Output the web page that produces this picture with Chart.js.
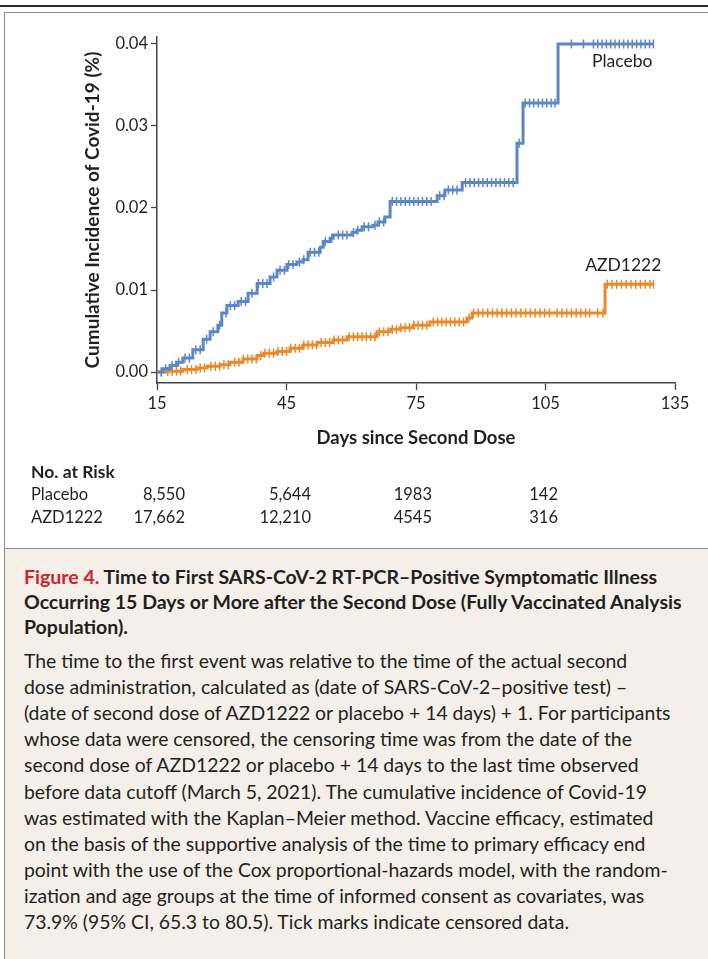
<!DOCTYPE html>
<html><head><meta charset="utf-8">
<script src="https://cdn.jsdelivr.net/npm/chart.js@4/dist/chart.umd.min.js"></script>
<style>
html,body{margin:0;padding:0;background:#fff;}
body{width:708px;height:959px;position:relative;overflow:hidden;font-family:Lato,"Open Sans",sans-serif;color:#231f20;}
#topline{position:absolute;left:0;top:5px;width:708px;height:2px;background:#2a2a2a;}
#frame{position:absolute;left:4px;top:12px;width:730px;height:960px;border-left:1.5px solid #8a8a8a;border-top:1.5px solid #8a8a8a;background:#fff;}
#caption{position:absolute;left:4px;top:548px;width:730px;height:420px;border-left:1.5px solid #8a8a8a;border-top:1.5px solid #8a8a8a;background:#f4f0e9;}
#cv{position:absolute;left:0;top:0;}
#risk{position:absolute;left:0;top:0;width:708px;height:548px;pointer-events:none;}
.rk{position:absolute;font-size:16.5px;white-space:nowrap;line-height:20px;}
.cap{position:absolute;left:24px;white-space:nowrap;font-size:19.4px;line-height:25px;}
.cap.ttl{font-size:19.5px;}
.ttl{font-weight:700;}
.red{color:#d2232a;}
</style></head>
<body>
<div id="topline"></div>
<div id="frame"></div>
<div id="caption"></div>
<canvas id="cv" width="708" height="460"></canvas>
<div id="risk"></div>
<div id="captext"></div>
<script>
// ---- data ----
const placeboDays = [15, 16.4, 18, 19.5, 21, 23.3, 25.7, 27.3, 29.1, 30, 31.2, 33.8, 36.1, 38.2, 41.2, 42.8, 45.1, 47.4, 48.8, 50, 52.8, 53.5, 55.1, 55.8, 60.2, 61.3, 62.5, 65, 66.2, 67.8, 69, 79.9, 81.7, 85.7, 98.4, 99.8, 107.9, 130];
const placeboCum  = [0, 0.0004, 0.0008, 0.0012, 0.0017, 0.0027, 0.0040, 0.0049, 0.0057, 0.0072, 0.0081, 0.0086, 0.0096, 0.0108, 0.0116, 0.0124, 0.0131, 0.0134, 0.0137, 0.0146, 0.0152, 0.0159, 0.0163, 0.0167, 0.0170, 0.0173, 0.0177, 0.0179, 0.0183, 0.0189, 0.0208, 0.0215, 0.0222, 0.0231, 0.0279, 0.0328, 0.0400, 0.0400];
const azdDays = [15, 17, 21, 24.3, 26.6, 29.6, 31.9, 34.9, 38.2, 39.6, 42.8, 45.8, 48.8, 52.1, 55.8, 59, 66, 69, 71.3, 74.3, 78.2, 86.8, 88, 118.8, 130];
const azdCum  = [0, 0.0001, 0.0003, 0.0005, 0.0007, 0.0009, 0.0012, 0.0016, 0.0020, 0.0023, 0.0025, 0.0029, 0.0033, 0.0036, 0.0039, 0.0043, 0.0049, 0.0052, 0.0054, 0.0057, 0.0061, 0.0066, 0.0072, 0.0107, 0.0107];
const placeboCensor = [16, 17, 18.5, 20, 21.5, 22.5, 24, 25, 26.5, 28, 29.5, 31, 32, 33, 34.5, 35.5, 37, 38.5, 39.5, 40.5, 42, 43.5, 44.5, 45.5, 46.5, 48, 49, 50.5, 51.5, 52.5, 54, 55.5, 57, 58, 59, 60.5, 61.5, 63, 64, 65.5, 66.5, 67.5, 69.5, 70.5, 71.5, 72.5, 73.5, 74.5, 75.5, 76.5, 77.5, 78.5, 80.5, 81.5, 82.5, 83.5, 84.5, 86.5, 87.5, 88.5, 89.5, 90.5, 91.5, 92.5, 93.5, 94.5, 95.5, 96.5, 97.5, 98.9, 100.3, 101.3, 102.3, 103.3, 104.3, 105.3, 106.3, 107.2, 111, 113.8, 116.1, 117.1, 118.1, 119.1, 120.1, 121.1, 122.1, 123.1, 124.1, 125.1, 126.1, 127.1, 128.1, 129.1, 130];
const azdCensor = [16, 17.5, 18.5, 19.5, 20.5, 22, 23, 24, 25, 26, 27.5, 28.5, 29.5, 30.5, 31.5, 33, 34, 35, 36, 37, 38, 39, 40, 41, 42, 43, 44, 45, 46, 47, 48, 49, 50, 51, 52, 53, 54, 55, 56, 57, 58, 59.5, 60.5, 61.5, 62.5, 63.5, 64.5, 65.5, 66.5, 67.5, 68.5, 69.5, 70.5, 71.5, 72.5, 73.5, 74.5, 75.5, 76.5, 77.5, 79, 80, 81, 82, 83, 84, 85, 86, 87.3, 88.3, 89.4, 90.5, 91.6, 92.7, 93.8, 94.9, 96, 97.1, 98.2, 99.3, 100.4, 101.5, 102.6, 103.7, 104.8, 105.9, 107.7, 108.8, 109.9, 111, 112.1, 113.2, 114.3, 115.2, 117.1, 118.3, 119.3, 120.4, 121.5, 122.6, 123.7, 124.8, 125.9, 127, 128.1, 129.2, 130];
const xTicks = [15, 45, 75, 105, 135];
const yTicks = [0.00, 0.01, 0.02, 0.03, 0.04];
const groups = ["Placebo", "AZD1222"];
const riskPlacebo = ["8,550", "5,644", "1983", "142"];
const riskAzd = ["17,662", "12,210", "4545", "316"];

const BLUE = "#5b87c7", ORANGE = "#e8892b", INK = "#231f20";
const FONT = "Lato, 'Open Sans', sans-serif";

function stepAt(days, cum, t) {
  let v = cum[0];
  for (let i = 0; i < days.length; i++) { if (days[i] <= t) v = cum[i]; }
  return v;
}
const toPts = (d, c) => d.map((x, i) => ({x: x, y: c[i]}));
const censorPts = (cs, d, c) => cs.map(t => ({x: t, y: stepAt(d, c, t)}));

const labelPlugin = {
  id: 'curveLabels',
  afterDatasetsDraw(chart) {
    const {ctx, scales: {x, y}} = chart;
    ctx.save();
    ctx.fillStyle = INK;
    ctx.font = "17.5px " + FONT;
    ctx.textAlign = "right";
    ctx.textBaseline = "middle";
    ctx.fillText(groups[0], x.getPixelForValue(130) - 1, y.getPixelForValue(0.0400) + 17);
    ctx.fillText(groups[1], x.getPixelForValue(130) + 8, y.getPixelForValue(0.0107) - 19);
    ctx.restore();
  }
};

new Chart(document.getElementById('cv'), {
  type: 'line',
  data: {
    datasets: [
      {data: toPts(placeboDays, placeboCum), borderColor: BLUE, borderWidth: 3, stepped: true, pointRadius: 0, fill: false},
      {data: toPts(azdDays, azdCum), borderColor: ORANGE, borderWidth: 3, stepped: true, pointRadius: 0, fill: false},
      {data: censorPts(placeboCensor, placeboDays, placeboCum), showLine: false, pointStyle: 'line', rotation: 90, pointRadius: 4.5, borderColor: BLUE, backgroundColor: BLUE, pointBorderWidth: 1.5},
      {data: censorPts(azdCensor, azdDays, azdCum), showLine: false, pointStyle: 'line', rotation: 90, pointRadius: 4.5, borderColor: ORANGE, backgroundColor: ORANGE, pointBorderWidth: 1.5}
    ]
  },
  options: {
    responsive: false, animation: false, devicePixelRatio: 1,
    layout: {padding: {top: 37, right: 33, left: 0, bottom: 0}},
    plugins: {legend: {display: false}, tooltip: {enabled: false}},
    scales: {
      x: {
        type: 'linear', min: 15, max: 135,
        afterBuildTicks: s => { s.ticks = xTicks.map(v => ({value: v})); },
        afterFit: s => { s.height = 77; },
        grid: {display: true, drawOnChartArea: false, drawTicks: true, tickLength: 7, color: '#444', tickWidth: 1.3},
        border: {display: true, color: '#444', width: 1.5},
        ticks: {color: INK, font: {family: FONT, size: 16.5}, padding: 4, maxRotation: 0},
        title: {display: true, text: 'Days since Second Dose', color: INK, font: {family: FONT, size: 18.5, weight: 'bold'}, padding: {top: 0, bottom: 11}}
      },
      y: {
        type: 'linear', min: -0.00134, max: 0.04085,
        afterBuildTicks: s => { s.ticks = yTicks.map(v => ({value: v})); },
        afterFit: s => { s.width = 157; },
        grid: {display: true, drawOnChartArea: false, drawTicks: true, tickLength: 6, color: '#444', tickWidth: 1.3},
        border: {display: true, color: '#444', width: 1.5},
        ticks: {color: INK, font: {family: FONT, size: 16.5}, padding: 3, callback: v => v.toFixed(2)},
        title: {display: true, text: 'Cumulative Incidence of Covid-19 (%)', color: INK, font: {family: FONT, size: 19, weight: 'bold'}, padding: {top: 81, bottom: 0}}
      }
    }
  },
  plugins: [labelPlugin]
});

// ---- No. at Risk table ----
const risk = document.getElementById('risk');
const riskRight = [185, 311, 432, 558];
function addText(txt, left, top, cls, right) {
  const d = document.createElement('div');
  d.className = 'rk' + (cls ? ' ' + cls : '');
  d.textContent = txt;
  d.style.top = top + 'px';
  if (right !== undefined) { d.style.right = (708 - right) + 'px'; } else { d.style.left = left + 'px'; }
  risk.appendChild(d);
}
addText('No. at Risk', 31, 462, 'ttl');
addText(groups[0], 31, 484);
addText(groups[1], 31, 507);
riskPlacebo.forEach((v, i) => addText(v, 0, 484, '', riskRight[i]));
riskAzd.forEach((v, i) => addText(v, 0, 507, '', riskRight[i]));
document.querySelector('.rk.ttl').style.fontSize = '17.5px';

// ---- caption ----
const titleLines = [
  '<span class="red">Figure 4.</span> Time to First SARS-CoV-2 RT-PCR–Positive Symptomatic Illness',
  'Occurring 15 Days or More after the Second Dose (Fully Vaccinated Analysis',
  'Population).'
];
const bodyLines = [
  'The time to the first event was relative to the time of the actual second',
  'dose administration, calculated as (date of SARS-CoV-2–positive test) –',
  '(date of second dose of AZD1222 or placebo + 14 days) + 1. For participants',
  'whose data were censored, the censoring time was from the date of the',
  'second dose of AZD1222 or placebo + 14 days to the last time observed',
  'before data cutoff (March 5, 2021). The cumulative incidence of Covid-19',
  'was estimated with the Kaplan–Meier method. Vaccine efficacy, estimated',
  'on the basis of the supportive analysis of the time to primary efficacy end',
  'point with the use of the Cox proportional-hazards model, with the random-',
  'ization and age groups at the time of informed consent as covariates, was',
  '73.9% (95% CI, 65.3 to 80.5). Tick marks indicate censored data.'
];
const cap = document.getElementById('captext');
titleLines.forEach((t, i) => {
  const d = document.createElement('div'); d.className = 'cap ttl'; d.innerHTML = t;
  d.style.top = (564 + i * 25) + 'px'; cap.appendChild(d);
});
bodyLines.forEach((t, i) => {
  const d = document.createElement('div'); d.className = 'cap'; d.textContent = t;
  d.style.top = (648 + i * 26.1) + 'px'; cap.appendChild(d);
});
</script>
</body></html>
